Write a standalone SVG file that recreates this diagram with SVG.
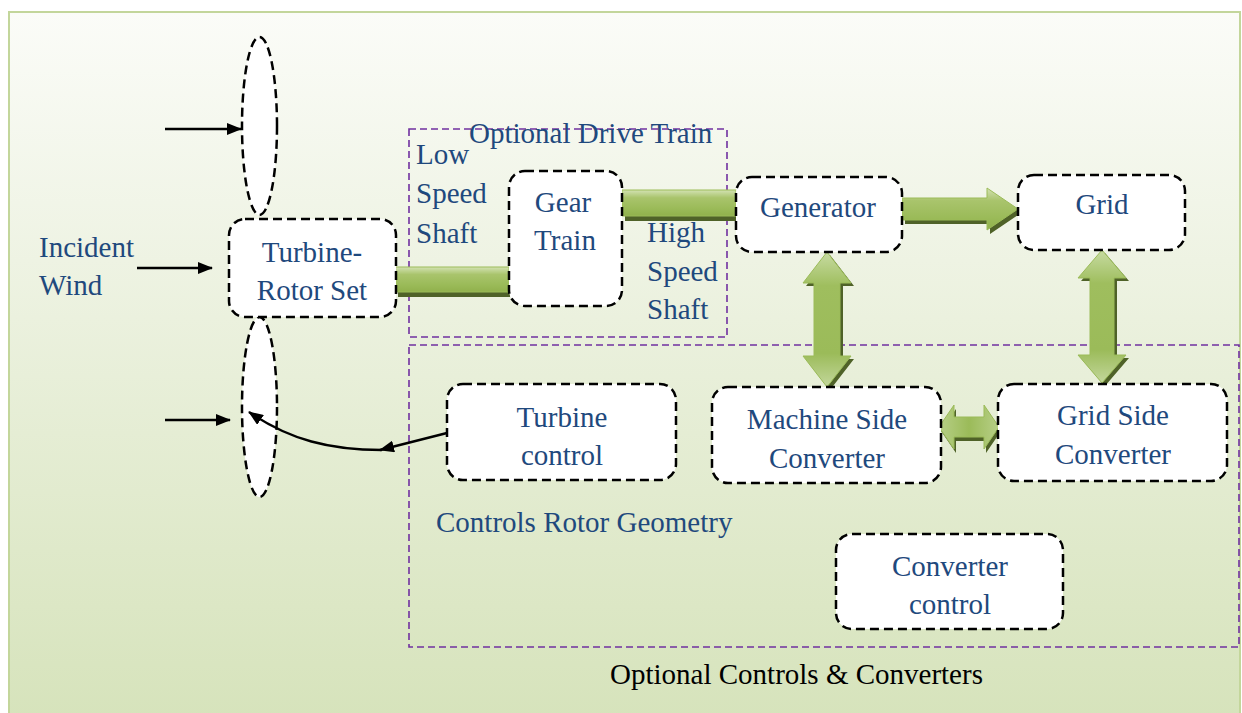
<svg xmlns="http://www.w3.org/2000/svg" width="1242" height="713" viewBox="0 0 1242 713">
  <defs>
    <linearGradient id="bg" x1="0" y1="0" x2="0" y2="1">
      <stop offset="0" stop-color="#fbfcf8"/>
      <stop offset="0.35" stop-color="#eef3e3"/>
      <stop offset="1" stop-color="#d6e3bb"/>
    </linearGradient>
    <linearGradient id="gH" x1="0" y1="0" x2="0" y2="1">
      <stop offset="0" stop-color="#d3e2b3"/>
      <stop offset="0.3" stop-color="#a9c46c"/>
      <stop offset="0.7" stop-color="#9bbb59"/>
      <stop offset="1" stop-color="#90b14c"/>
    </linearGradient>
    <linearGradient id="gV" x1="0" y1="0" x2="0" y2="1">
      <stop offset="0" stop-color="#c7dba2"/>
      <stop offset="0.25" stop-color="#9fbe5e"/>
      <stop offset="0.75" stop-color="#9bbb59"/>
      <stop offset="1" stop-color="#c3d79c"/>
    </linearGradient>
    <linearGradient id="gX" x1="0" y1="0" x2="1" y2="0">
      <stop offset="0" stop-color="#b7cf87"/>
      <stop offset="0.5" stop-color="#9bbb59"/>
      <stop offset="1" stop-color="#b7cf87"/>
    </linearGradient>
    <marker id="ah" viewBox="0 0 15 12" refX="14" refY="6" markerWidth="15" markerHeight="12" markerUnits="userSpaceOnUse" orient="auto">
      <path d="M0,0 L15,6 L0,12 z" fill="#000"/>
    </marker>
    <style>
      .node { fill: #ffffff; stroke: #000; stroke-width: 2.5; stroke-dasharray: 9 5; }
      .group { fill: none; stroke: #7030a0; stroke-width: 1.6; stroke-dasharray: 7 4; }
      .t { font-size: 29px; fill: #1f497d; }
      .tc { text-anchor: middle; }
      .blk { fill: #000; }
      .wire { fill: none; stroke: #000; stroke-width: 2.4; }
      .shadow { fill: #4f6228; }
      .arrowH { fill: url(#gH); stroke: #9bbb59; stroke-width: 1; }
      .arrowV { fill: url(#gV); stroke: #9bbb59; stroke-width: 1; }
      .arrowX { fill: url(#gX); stroke: #9bbb59; stroke-width: 1; }
    </style>
  </defs>

  <!-- page background with framed panel -->
  <rect x="0" y="0" width="1242" height="713" fill="#ffffff"/>
  <rect x="9" y="12" width="1231" height="710" fill="url(#bg)" stroke="#c3d69b" stroke-width="2"/>

  <!-- dashed grouping frames -->
  <g id="drive-train-group">
    <rect class="group" x="409" y="129" width="318" height="208"/>
  </g>
  <g id="controls-group">
    <rect class="group" x="409" y="345" width="830" height="302"/>
  </g>

  <!-- power-flow block arrows -->
  <g id="connectors-power">
    <!-- low speed shaft -->
    <rect class="shadow" x="398" y="271" width="112" height="26"/>
    <rect class="arrowH" x="395" y="267" width="114" height="25"/>
    <!-- high speed shaft -->
    <rect class="shadow" x="625" y="195" width="112" height="26"/>
    <rect class="arrowH" x="622" y="190" width="114" height="26"/>
    <!-- generator to grid -->
    <polygon class="shadow" transform="translate(3,4)" points="902,198 987,198 987,188 1018,209 987,230 987,220 902,220"/>
    <polygon class="arrowH" points="902,198 987,198 987,188 1018,209 987,230 987,220 902,220"/>
    <!-- generator <-> machine side converter -->
    <polygon class="shadow" transform="translate(3,3)" points="827,252 851,283 840,283 840,356 851,356 827,387 803,356 814,356 814,283 803,283"/>
    <polygon class="arrowV" points="827,252 851,283 840,283 840,356 851,356 827,387 803,356 814,356 814,283 803,283"/>
    <!-- grid <-> grid side converter -->
    <polygon class="shadow" transform="translate(3,3)" points="1102,250 1126,278 1114,278 1114,355 1126,355 1102,383 1078,355 1090,355 1090,278 1078,278"/>
    <polygon class="arrowV" points="1102,250 1126,278 1114,278 1114,355 1126,355 1102,383 1078,355 1090,355 1090,278 1078,278"/>
    <!-- machine side <-> grid side converter -->
    <polygon class="shadow" transform="translate(2,4)" points="939,427 954,405 954,417 984,417 984,405 999,427 984,449 984,437 954,437 954,449"/>
    <polygon class="arrowX" points="939,427 954,405 954,417 984,417 984,405 999,427 984,449 984,437 954,437 954,449"/>
  </g>

  <!-- rotor blades -->
  <g id="blade-top">
    <ellipse class="node" cx="259.5" cy="126" rx="17.5" ry="89"/>
  </g>
  <g id="blade-bottom">
    <ellipse class="node" cx="259.5" cy="407" rx="17.5" ry="90"/>
  </g>

  <g font-family="'Liberation Serif', 'Times New Roman', 'DejaVu Serif', serif">
    <g id="turbine-rotor">
      <rect class="node" x="229" y="219" width="167" height="98" rx="16"/>
      <text class="t tc" x="312" y="262">Turbine-</text>
      <text class="t tc" x="312" y="300">Rotor Set</text>
    </g>

    <g id="gear-train">
      <rect class="node" x="509" y="171" width="113" height="135" rx="16"/>
      <text class="t tc" x="563" y="212">Gear</text>
      <text class="t tc" x="565" y="250">Train</text>
    </g>

    <g id="generator">
      <rect class="node" x="736" y="177" width="166" height="75" rx="16"/>
      <text class="t tc" x="818" y="217">Generator</text>
    </g>

    <g id="grid">
      <rect class="node" x="1018" y="175" width="167" height="75" rx="16"/>
      <text class="t tc" x="1102" y="214">Grid</text>
    </g>

    <g id="turbine-control">
      <rect class="node" x="447" y="384" width="229" height="96" rx="16"/>
      <text class="t tc" x="562" y="427">Turbine</text>
      <text class="t tc" x="562" y="465">control</text>
    </g>

    <g id="machine-side-converter">
      <rect class="node" x="712" y="387" width="229" height="96" rx="16"/>
      <text class="t tc" x="827" y="429">Machine Side</text>
      <text class="t tc" x="827" y="468">Converter</text>
    </g>

    <g id="grid-side-converter">
      <rect class="node" x="998" y="384" width="229" height="97" rx="16"/>
      <text class="t tc" x="1113" y="425">Grid Side</text>
      <text class="t tc" x="1113" y="464">Converter</text>
    </g>

    <g id="converter-control">
      <rect class="node" x="836" y="534" width="227" height="95" rx="16"/>
      <text class="t tc" x="950" y="576">Converter</text>
      <text class="t tc" x="950" y="614">control</text>
    </g>

    <!-- free labels -->
    <g id="labels">
      <text class="t" x="39" y="257">Incident</text>
      <text class="t" x="39" y="295">Wind</text>
      <text class="t" x="416" y="164">Low</text>
      <text class="t" x="416" y="203">Speed</text>
      <text class="t" x="416" y="243">Shaft</text>
      <text class="t" x="647" y="242">High</text>
      <text class="t" x="647" y="281">Speed</text>
      <text class="t" x="647" y="319">Shaft</text>
      <text class="t" x="469" y="143">Optional Drive Train</text>
      <text class="t" x="436" y="532">Controls Rotor Geometry</text>
      <text class="t blk" x="610" y="684">Optional Controls &amp; Converters</text>
    </g>
  </g>

  <!-- wind and control connectors -->
  <g id="connectors">
    <line class="wire" x1="165" y1="129" x2="241" y2="129" marker-end="url(#ah)"/>
    <line class="wire" x1="137" y1="268" x2="212" y2="268" marker-end="url(#ah)"/>
    <line class="wire" x1="165" y1="420" x2="230" y2="420" marker-end="url(#ah)"/>
    <line class="wire" x1="447" y1="433" x2="380" y2="450" marker-end="url(#ah)"/>
    <path class="wire" d="M382,450 C330,450 290,440 249,412" marker-end="url(#ah)"/>
  </g>
</svg>
